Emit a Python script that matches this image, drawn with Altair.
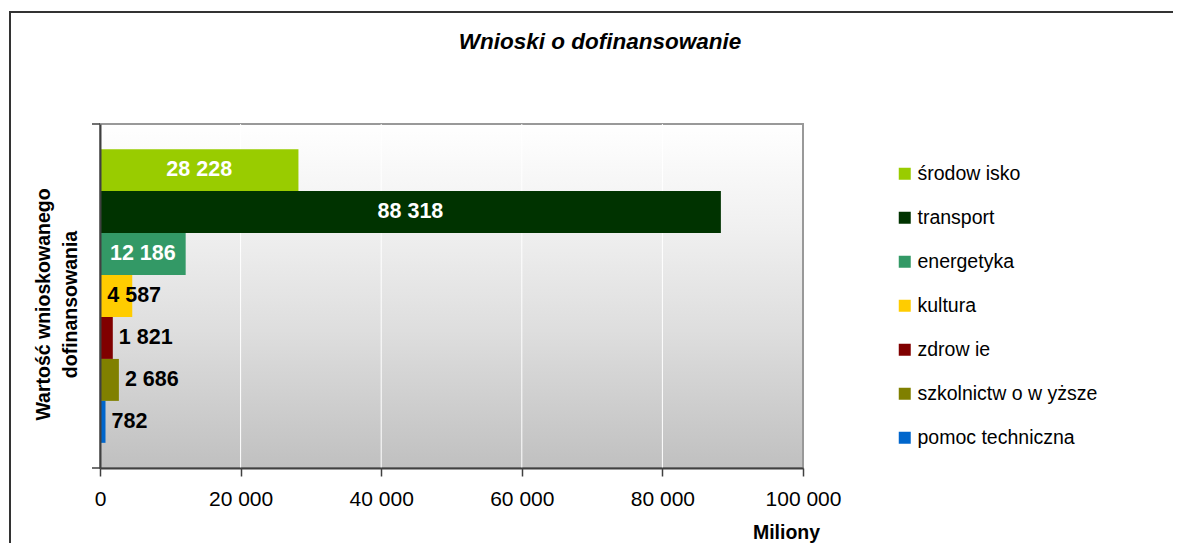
import altair as alt
import pandas as pd

title_text = "Wnioski o dofinansowanie"
categories = ["środow isko", "transport", "energetyka", "kultura", "zdrow ie",
              "szkolnictw o w yższe", "pomoc techniczna"]
values = [28228, 88318, 12186, 4587, 1821, 2686, 782]
colors = ["#99CC00", "#003300", "#339966", "#FFCC00", "#800000", "#808000", "#0066CC"]
x_ticks = [0, 20000, 40000, 60000, 80000, 100000]

FONT = "Liberation Sans"
W, H = 703, 344

df = pd.DataFrame({"kategoria": categories, "wartosc": values})
one = pd.DataFrame({"t": [title_text]})

xscale = alt.Scale(domain=[x_ticks[0], x_ticks[-1]], nice=False, zero=True)
yscale = alt.Scale(domain=categories, paddingInner=0, paddingOuter=0.6)
label_expr = "replace(format(datum.wartosc, ','), /,/g, ' ')"

xaxis = alt.Axis(
    values=x_ticks, labelExpr="replace(format(datum.value, ','), /,/g, ' ')",
    title="Miliony", titleFontSize=19.5, titleFontWeight="bold", titleFont=FONT,
    titleColor="black", titleX=686, titleY=64, titleAlign="center", titleBaseline="middle",
    labelFontSize=21, labelFont=FONT, labelColor="black", labelPadding=12,
    labelFlush=False, labelOverlap=False,
    tickSize=8, tickColor="#404040", tickWidth=1.5,
    domainColor="#404040", domainWidth=2, grid=False, zindex=1)
yaxis = alt.Axis(
    labels=False, ticks=False, domainColor="#404040", domainWidth=2, grid=False,
    title=["Wartość wnioskowanego", "dofinansowania"], titleFontSize=19.5,
    titleFontWeight="bold", titleFont=FONT, titleColor="black",
    titleLineHeight=27, titlePadding=20, titleY=180, zindex=1)

border = alt.Chart(one).mark_rect(filled=False, stroke="#333333", strokeWidth=2).encode(
    x=alt.value(-90), x2=alt.value(1200), y=alt.value(-112), y2=alt.value(700))

title = alt.Chart(one).mark_text(
    fontSize=22.5, fontStyle="italic", fontWeight="bold", font=FONT, color="black",
    align="center", baseline="middle").encode(
    x=alt.value(500), y=alt.value(-82), text="t:N")

bg = alt.Chart(one).mark_rect(
    fill=alt.Gradient(gradient="linear", x1=0, x2=0, y1=0, y2=1, stops=[
        alt.GradientStop(color="#ffffff", offset=0),
        alt.GradientStop(color="#f0f0f0", offset=0.3),
        alt.GradientStop(color="#dedede", offset=0.6),
        alt.GradientStop(color="#c0c0c0", offset=1)]),
    stroke="#999999", strokeWidth=2).encode(
    x=alt.value(0), x2=alt.value(W), y=alt.value(0), y2=alt.value(H))

grid = alt.Chart(pd.DataFrame({"wartosc": x_ticks[1:-1]})).mark_rule(
    color="white", strokeWidth=1).encode(
    x=alt.X("wartosc:Q", scale=xscale, axis=xaxis))

bars = alt.Chart(df).mark_bar(strokeWidth=0).encode(
    x=alt.X("wartosc:Q", scale=xscale, axis=xaxis),
    y=alt.Y("kategoria:N", scale=yscale, sort=categories, axis=yaxis),
    color=alt.Color("kategoria:N", scale=alt.Scale(domain=categories, range=colors),
                    sort=categories, legend=alt.Legend(
        title=None, orient="none", legendX=795, legendY=40, symbolType="square",
        symbolSize=144, symbolStrokeWidth=0, labelFontSize=19.5, labelFont=FONT,
        labelColor="black", rowPadding=23, labelOffset=3, padding=0, labelLimit=400)))

txt_common = dict(fontWeight="bold", fontSize=21.5, font=FONT, baseline="middle")

t_center = alt.Chart(df).transform_filter(
    alt.FieldOneOfPredicate(field="kategoria", oneOf=categories[:3])
).transform_calculate(mid="datum.wartosc / 2", lab=label_expr).mark_text(
    color="white", align="center", **txt_common).encode(
    x=alt.X("mid:Q", scale=xscale, axis=xaxis),
    y=alt.Y("kategoria:N", scale=yscale, sort=categories, axis=yaxis),
    text="lab:N")

t_end = alt.Chart(df).transform_filter(
    alt.FieldOneOfPredicate(field="kategoria", oneOf=categories[4:])
).transform_calculate(lab=label_expr).mark_text(
    color="black", align="left", dx=6, **txt_common).encode(
    x=alt.X("wartosc:Q", scale=xscale, axis=xaxis),
    y=alt.Y("kategoria:N", scale=yscale, sort=categories, axis=yaxis),
    text="lab:N")

t_mid = alt.Chart(df).transform_filter(
    alt.FieldEqualPredicate(field="kategoria", equal=categories[3])
).transform_calculate(lab=label_expr).mark_text(
    color="black", align="left", dx=-25, **txt_common).encode(
    x=alt.X("wartosc:Q", scale=xscale, axis=xaxis),
    y=alt.Y("kategoria:N", scale=yscale, sort=categories, axis=yaxis),
    text="lab:N")

ytick_top = alt.Chart(one).mark_rule(color="#404040", strokeWidth=1.5).encode(
    x=alt.value(-8), x2=alt.value(0), y=alt.value(0))
ytick_bot = alt.Chart(one).mark_rule(color="#404040", strokeWidth=1.5).encode(
    x=alt.value(-8), x2=alt.value(0), y=alt.value(H))

chart = alt.layer(border, title, bg, grid, bars, t_center, t_end, t_mid,
                  ytick_top, ytick_bot).properties(
    width=W, height=H,
    padding={"left": 92, "top": 116, "right": 370, "bottom": 75},
    autosize=alt.AutoSizeParams(type="none"),
).configure(font=FONT).configure_view(strokeWidth=0)

chart.save("out.html", embed_options={"renderer": "svg", "actions": False})
